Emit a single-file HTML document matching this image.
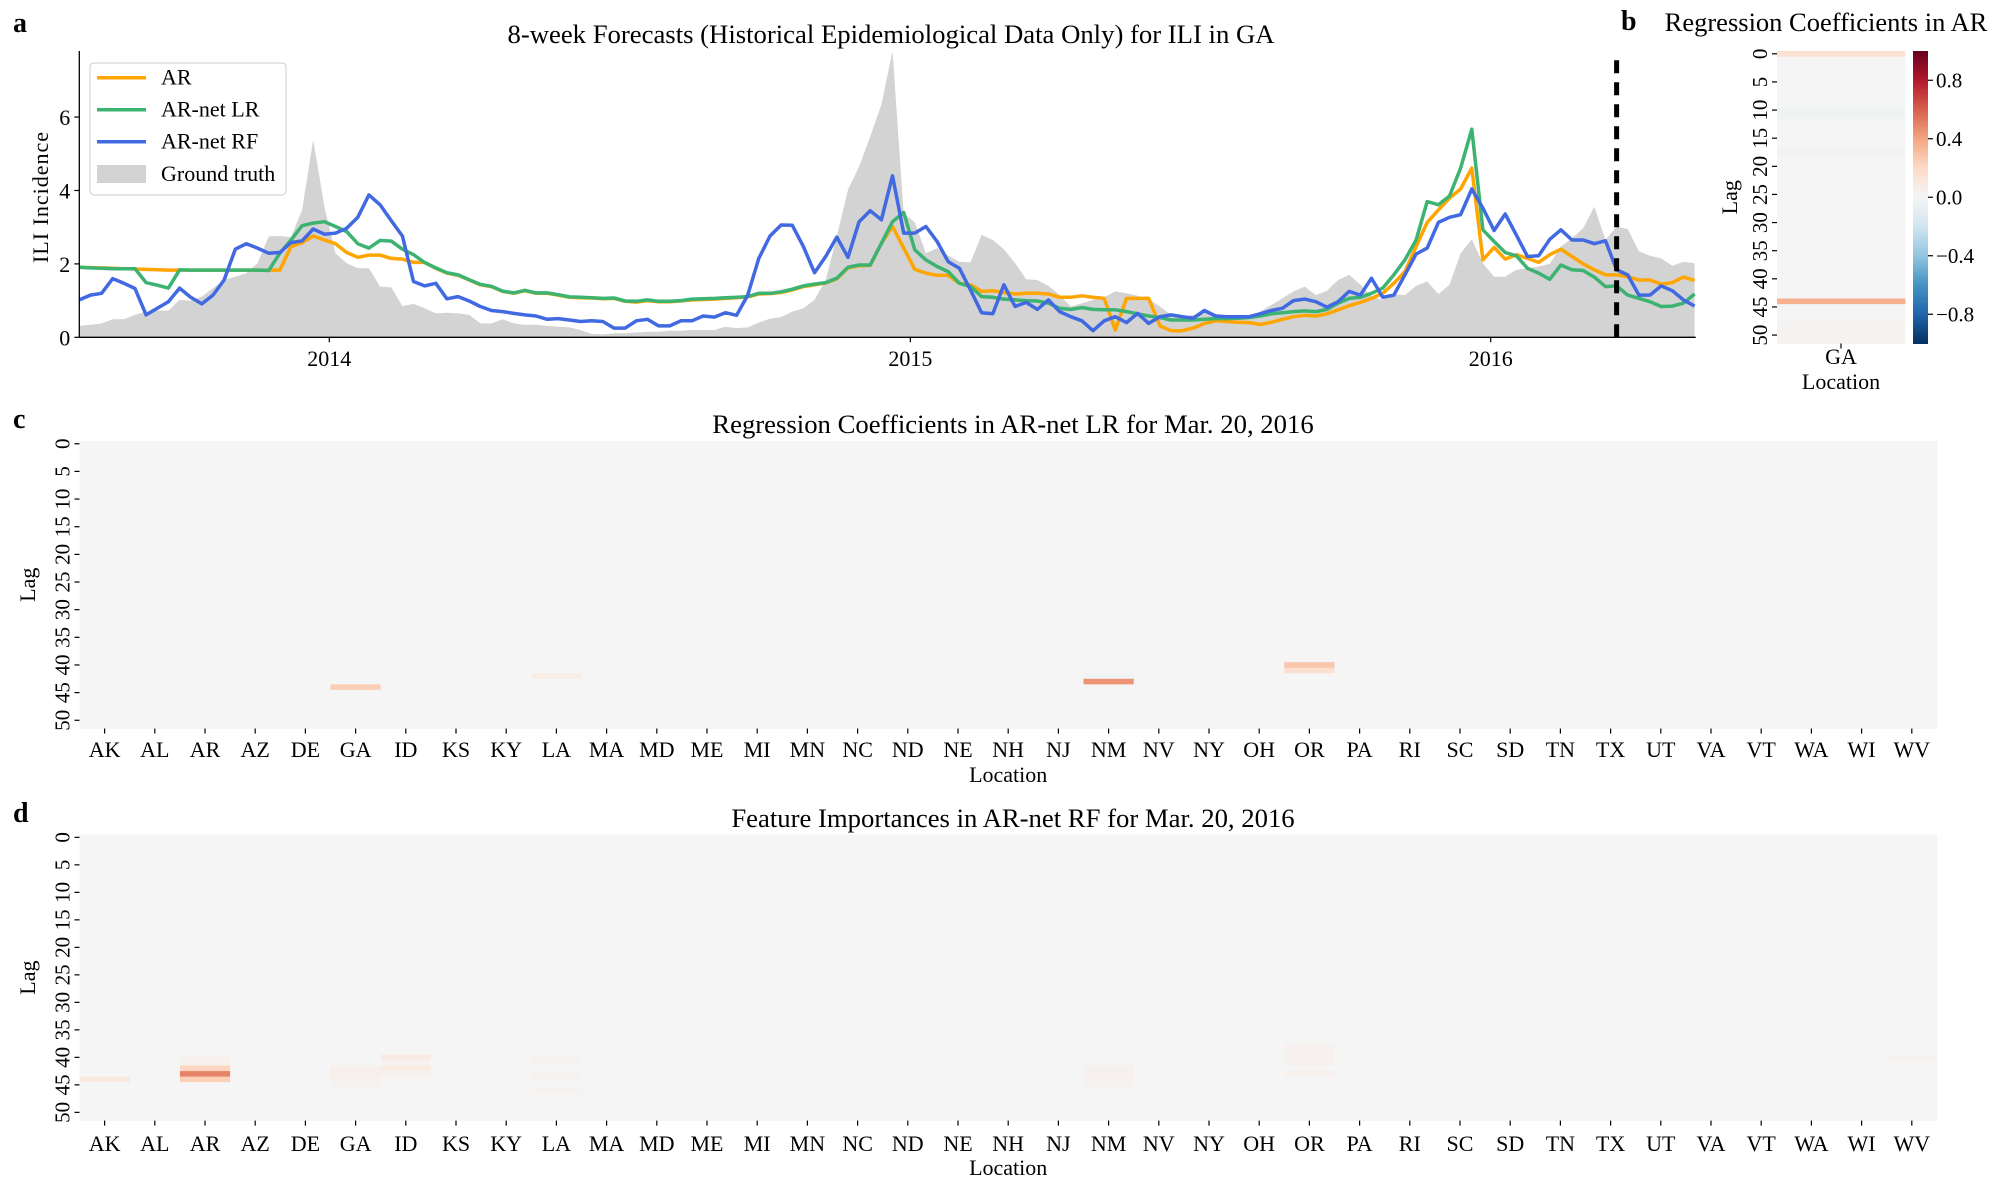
<!DOCTYPE html>
<html><head><meta charset="utf-8"><style>
html,body{margin:0;padding:0;background:#fff;}
svg{display:block;font-family:"Liberation Serif","DejaVu Serif",serif;}
</style></head><body>
<svg id="fig" width="2000" height="1200" viewBox="0 0 2000 1200" xmlns="http://www.w3.org/2000/svg">
<text x="13" y="32" font-size="28" font-weight="bold">a</text>
<text x="1621" y="30" font-size="28" font-weight="bold">b</text>
<text x="13" y="428" font-size="28" font-weight="bold">c</text>
<text x="13" y="822" font-size="28" font-weight="bold">d</text>
<text x="891" y="43" font-size="26.7" text-anchor="middle">8-week Forecasts (Historical Epidemiological Data Only) for ILI in GA</text>
<text x="1826" y="31" font-size="26.5" text-anchor="middle">Regression Coefficients in AR</text>
<text x="1013" y="433" font-size="26.7" text-anchor="middle">Regression Coefficients in AR-net LR for Mar. 20, 2016</text>
<text x="1013" y="827" font-size="26.7" text-anchor="middle">Feature Importances in AR-net RF for Mar. 20, 2016</text>
<g id="pa"></g>
<g id="pb"></g>
<g id="pc"></g>
<g id="pd"></g>
</svg>
<script>
// ---- Panel a data (weekly, index 0 = first week shown) ----
const groundTruth=[0.31,0.34,0.38,0.49,0.49,0.61,0.70,0.73,0.73,1.02,1.00,1.11,1.34,1.56,1.65,1.75,2.02,2.75,2.76,2.73,3.47,5.38,3.56,2.29,2.02,1.88,1.88,1.38,1.36,0.85,0.91,0.79,0.65,0.67,0.65,0.61,0.38,0.38,0.49,0.38,0.34,0.34,0.31,0.29,0.27,0.20,0.09,0.08,0.11,0.11,
0.13,0.15,0.15,0.18,0.18,0.20,0.20,0.20,0.29,0.25,0.27,0.40,0.51,0.55,0.70,0.79,1.02,1.56,2.75,4.02,4.65,5.47,6.34,7.84,3.38,3.13,2.29,2.43,2.22,2.06,2.04,2.79,2.65,2.40,2.02,1.58,1.56,1.40,1.15,0.84,0.93,1.02,1.09,1.25,1.20,1.13,1.04,0.84,0.61,
0.56,0.61,0.67,0.64,0.55,0.52,0.55,0.70,0.88,1.06,1.25,1.38,1.15,1.27,1.56,1.70,1.43,1.11,1.02,1.18,1.15,1.40,1.52,1.18,1.43,2.29,2.67,2.02,1.65,1.65,1.84,1.88,1.93,2.00,2.47,2.70,2.97,3.56,2.65,3.02,2.95,2.34,2.22,2.15,1.95,2.06,2.02];
const arSeries=[1.91,1.90,1.89,1.88,1.87,1.86,1.85,1.84,1.83,1.83,1.83,1.83,1.83,1.83,1.83,1.83,1.83,1.83,1.83,2.47,2.58,2.76,2.65,2.55,2.31,2.18,2.24,2.24,2.15,2.13,2.04,2.04,1.88,1.75,1.69,1.56,1.43,1.38,1.25,1.20,1.27,1.20,1.20,1.15,1.09,1.08,1.07,1.05,1.06,0.98,
0.96,1.00,0.97,0.97,0.99,1.02,1.03,1.04,1.06,1.08,1.10,1.18,1.19,1.22,1.29,1.38,1.43,1.48,1.59,1.89,1.95,1.96,2.56,3.02,2.43,1.85,1.75,1.69,1.69,1.47,1.43,1.25,1.27,1.22,1.18,1.20,1.20,1.18,1.09,1.09,1.13,1.09,1.06,0.20,1.06,1.06,1.06,0.31,0.18,
0.18,0.25,0.38,0.45,0.43,0.41,0.40,0.35,0.41,0.49,0.56,0.60,0.58,0.64,0.75,0.86,0.95,1.06,1.20,1.47,1.79,2.47,3.13,3.47,3.79,4.04,4.61,2.11,2.45,2.13,2.25,2.15,2.04,2.25,2.40,2.20,2.00,1.84,1.70,1.70,1.65,1.56,1.56,1.45,1.49,1.64,1.55];
const lrSeries=[1.91,1.89,1.88,1.87,1.87,1.87,1.49,1.42,1.34,1.84,1.83,1.83,1.83,1.83,1.83,1.83,1.83,1.82,2.29,2.65,3.04,3.11,3.15,3.02,2.88,2.55,2.43,2.64,2.62,2.40,2.25,2.04,1.89,1.76,1.70,1.57,1.44,1.39,1.26,1.21,1.28,1.21,1.21,1.16,1.10,1.09,1.08,1.06,1.07,0.99,
0.98,1.02,0.98,0.98,1.00,1.04,1.05,1.06,1.08,1.09,1.11,1.20,1.20,1.24,1.31,1.40,1.45,1.49,1.61,1.91,1.97,1.97,2.56,3.15,3.40,2.38,2.11,1.93,1.79,1.47,1.38,1.11,1.09,1.04,1.02,1.00,0.99,0.93,0.79,0.76,0.81,0.76,0.75,0.75,0.70,0.64,0.58,0.54,0.47,
0.47,0.47,0.49,0.51,0.51,0.52,0.54,0.58,0.64,0.67,0.70,0.72,0.70,0.76,0.93,1.06,1.09,1.20,1.34,1.70,2.11,2.65,3.70,3.61,3.85,4.61,5.67,2.93,2.61,2.31,2.22,1.88,1.75,1.58,1.97,1.84,1.82,1.64,1.38,1.40,1.15,1.06,0.97,0.84,0.85,0.93,1.18];
const rfSeries=[1.02,1.15,1.20,1.60,1.47,1.33,0.61,0.79,0.97,1.34,1.09,0.91,1.15,1.56,2.40,2.55,2.43,2.29,2.31,2.58,2.63,2.95,2.81,2.84,2.97,3.27,3.88,3.61,3.18,2.76,1.52,1.40,1.47,1.05,1.11,0.99,0.84,0.73,0.70,0.65,0.61,0.58,0.49,0.51,0.47,0.43,0.45,0.43,0.25,0.25,
0.45,0.49,0.31,0.31,0.45,0.45,0.58,0.55,0.67,0.60,1.15,2.15,2.76,3.06,3.05,2.47,1.76,2.20,2.73,2.18,3.15,3.45,3.20,4.40,2.84,2.84,3.02,2.61,2.06,1.88,1.29,0.67,0.64,1.43,0.84,0.95,0.76,1.02,0.70,0.56,0.45,0.18,0.45,0.56,0.40,0.65,0.38,0.56,0.61,
0.56,0.52,0.73,0.58,0.56,0.56,0.56,0.64,0.73,0.79,1.00,1.04,0.97,0.82,0.97,1.25,1.15,1.61,1.09,1.15,1.70,2.27,2.43,3.13,3.27,3.34,4.04,3.52,2.91,3.36,2.79,2.20,2.22,2.67,2.93,2.65,2.65,2.55,2.63,1.84,1.70,1.15,1.15,1.40,1.27,1.02,0.85];
const yTicks=[0,2,4,6];
const yearLabels=["2014","2015","2016"];
const yearWeeks=[22.44,74.6,126.7];
const forecastWeek=138;
// ---- Heatmap data ----
const locations=["AK","AL","AR","AZ","DE","GA","ID","KS","KY","LA","MA","MD","ME","MI","MN","NC","ND","NE","NH","NJ","NM","NV","NY","OH","OR","PA","RI","SC","SD","TN","TX","UT","VA","VT","WA","WI","WV"];
const lagTicks=[0,5,10,15,20,25,30,35,40,45,50];
const cbTicks=[0.8,0.4,0.0,-0.4,-0.8];
const bLags=[0,10,11,17,18,44,48,49,50,51];
const bVals=[0.15,-0.03,-0.03,-0.02,-0.02,0.36,0.01,0.01,0.01,0.01];
const cLocs=["GA","LA","NM","NM","OR","OR"];
const cLags=[44,42,42,43,40,41];
const cVals=[0.25,0.06,-0.03,0.45,0.28,0.16];
const dLocs=["AK","AR","AR","AR","AR","AR","GA","GA","GA","GA","GA","ID","ID","ID","ID","LA","LA","LA","LA","LA","NM","NM","NM","NM","OR","OR","OR","OR","OR","WV"];
const dLags=[44,40,41,42,43,44,42,43,44,45,49,40,41,42,43,40,41,43,44,46,42,43,44,45,38,39,40,41,43,40];
const dVals=[0.10,0.02,0.04,0.22,0.50,0.25,0.04,0.05,0.04,0.02,0.01,0.08,0.02,0.07,0.02,0.02,0.02,0.025,0.025,0.02,0.03,0.03,0.03,0.02,0.03,0.03,0.03,0.03,0.04,0.02];

const NS="http://www.w3.org/2000/svg";
function mk(tag,attrs,parent){const e=document.createElementNS(NS,tag);for(const k in attrs)e.setAttribute(k,attrs[k]);parent.appendChild(e);return e;}
const stops=["#053061","#2166ac","#4393c3","#92c5de","#d1e5f0","#f5f5f5","#fddbc7","#f4a582","#d6604d","#b2182b","#67001f"];
function hex(c){return [parseInt(c.substr(1,2),16),parseInt(c.substr(3,2),16),parseInt(c.substr(5,2),16)];}
function rdbu(v){v=Math.max(-1,Math.min(1,v));const t=(v+1)/2*10;const i=Math.min(9,Math.floor(t));const f=t-i;const a=hex(stops[i]),b=hex(stops[i+1]);return "rgb("+a.map((x,k)=>Math.round(x+(b[k]-x)*f)).join(",")+")";}

// ---- Panel a ----
const pa=document.getElementById('pa');
const X0=79.3,X1=1695.7,Y0=337.3,Y1=51,WMAX=145.1,VMAX=7.8;
const xs=w=>X0+(X1-X0)*w/WMAX;
const ys=v=>Y0-(Y0-Y1)*Math.min(v,VMAX)/VMAX;
let d="M"+xs(0)+","+ys(0);
groundTruth.forEach((v,i)=>{d+=" L"+xs(i).toFixed(1)+","+ys(v).toFixed(1);});
d+=" L"+xs(groundTruth.length-1)+","+ys(0)+" Z";
let gt=mk('path',{d:d,fill:"#d3d3d3",stroke:"none"},pa);


const series=[[arSeries,"#ffa500","ar-line"],[lrSeries,"#3cb371","ar-net-lr-line"],[rfSeries,"#4169e1","ar-net-rf-line"]];
series.forEach(s=>{const pts=s[0].map((v,i)=>xs(i).toFixed(1)+","+ys(v).toFixed(1)).join(" ");
 const l=mk('polyline',{points:pts,fill:"none",stroke:s[1],"stroke-width":3.5,"stroke-linejoin":"round"},pa);
 
 });
const dl=mk('line',{x1:xs(forecastWeek),x2:xs(forecastWeek),y1:Y0,y2:58,stroke:"#000","stroke-width":5,"stroke-dasharray":"13,9"},pa);


mk('line',{x1:X0,x2:X0,y1:Y1,y2:Y0,stroke:"#000","stroke-width":1.3},pa);
mk('line',{x1:X0,x2:X1,y1:Y0,y2:Y0,stroke:"#000","stroke-width":1.3},pa);
yTicks.forEach(t=>{mk('line',{x1:X0-5,x2:X0,y1:ys(t),y2:ys(t),stroke:"#000","stroke-width":1.2},pa);
 const tx=mk('text',{x:X0-9,y:ys(t)+8,"font-size":22,"text-anchor":"end"},pa);tx.textContent=t;
 
 });
yearWeeks.forEach((w,i)=>{mk('line',{x1:xs(w),x2:xs(w),y1:Y0,y2:Y0+5,stroke:"#000","stroke-width":1.2},pa);
 const tx=mk('text',{x:xs(w),y:366,"font-size":22,"text-anchor":"middle"},pa);tx.textContent=yearLabels[i];
 
 });
const yl=mk('text',{x:0,y:0,"font-size":22,"text-anchor":"middle","letter-spacing":"1",transform:"translate(48,197) rotate(-90)"},pa);yl.textContent="ILI Incidence";


const lg=mk('g',{},pa);


mk('rect',{x:90,y:63,width:196,height:132,rx:4,fill:"#fff","fill-opacity":0.85,stroke:"#ccc","stroke-width":1},lg);
const legItems=[["AR","#ffa500",77.7],["AR-net LR","#3cb371",109.7],["AR-net RF","#4169e1",141.7]];
legItems.forEach(it=>{mk('line',{x1:97,x2:146,y1:it[2],y2:it[2],stroke:it[1],"stroke-width":3.5},lg);
 const t=mk('text',{x:161,y:it[2]+7,"font-size":22},lg);t.textContent=it[0];
 
 });
mk('rect',{x:97,y:165,width:49,height:18,fill:"#d3d3d3"},lg);
const gtl=mk('text',{x:161,y:181,"font-size":22},lg);gtl.textContent="Ground truth";



// ---- Heatmap helper ----
function lagAxis(g,left,top,rowH,labelX){
 lagTicks.forEach(l=>{const y=top+(l+0.5)*rowH;
  mk('line',{x1:left-5,x2:left,y1:y,y2:y,stroke:"#000","stroke-width":1.2},g);
  const t=mk('text',{x:0,y:0,"font-size":21,"text-anchor":"middle",transform:"translate("+(left-10)+","+y+") rotate(-90)"},g);t.textContent=l;
  
  });
 const t=mk('text',{x:0,y:0,"font-size":22,"text-anchor":"middle",transform:"translate("+labelX+","+(top+26*rowH)+") rotate(-90)"},g);t.textContent="Lag";
 
 
}
function matrix(locs,lags,vals,ncol){const m=[];for(let r=0;r<52;r++){m.push(new Array(ncol).fill(0));}
 for(let k=0;k<vals.length;k++){const c=ncol===1?0:locations.indexOf(locs[k]);m[lags[k]][c]=vals[k];}return m;}
function drawHeat(g,m,left,top,colW,rowH){
 for(let r=0;r<52;r++)for(let c=0;c<m[r].length;c++){
  const e=mk('rect',{x:left+c*colW,y:top+r*rowH,width:colW+0.4,height:rowH+0.4,fill:rdbu(m[r][c])},g);
  
  }}
function locAxis(g,left,bottom,colW,labY,titleY){
 locations.forEach((l,i)=>{const x=left+(i+0.5)*colW;
  mk('line',{x1:x,x2:x,y1:bottom,y2:bottom+5,stroke:"#000","stroke-width":1.2},g);
  const t=mk('text',{x:x,y:labY,"font-size":22,"text-anchor":"middle"},g);t.textContent=l;
  
  });
 const t=mk('text',{x:left+colW*37/2,y:titleY,"font-size":22,"text-anchor":"middle"},g);t.textContent="Location";
 
 }

// ---- Panel b ----
const pb=document.getElementById('pb');
const bL=1777,bT=51,bW=128,bRH=(343.5-51)/52;
drawHeat(pb,matrix(null,bLags,bVals,1),bL,bT,bW,bRH);
lagAxis(pb,bL,bT,bRH,1737);
mk('line',{x1:bL+bW/2,x2:bL+bW/2,y1:bT+52*bRH,y2:bT+52*bRH+5,stroke:"#000","stroke-width":1.2},pb);
const ga=mk('text',{x:bL+bW/2,y:364,"font-size":22,"text-anchor":"middle"},pb);ga.textContent="GA";


const blab=mk('text',{x:bL+bW/2,y:389,"font-size":22,"text-anchor":"middle"},pb);blab.textContent="Location";


const cbX=1913,cbW=15,cbT=51,cbB=343.5;
for(let k=0;k<120;k++){const v=1-2*(k+0.5)/120;mk('rect',{x:cbX,y:cbT+(cbB-cbT)*k/120,width:cbW,height:(cbB-cbT)/120+0.5,fill:rdbu(v)},pb);}
cbTicks.forEach(v=>{const y=cbT+(cbB-cbT)*(1-v)/2;
 mk('line',{x1:cbX+cbW,x2:cbX+cbW+5,y1:y,y2:y,stroke:"#000","stroke-width":1.2},pb);
 const t=mk('text',{x:cbX+cbW+8,y:y+7,"font-size":21},pb);t.textContent=(v<0?"\u2212":"")+Math.abs(v).toFixed(1);
 
 });

// ---- Panel c ----
const pc=document.getElementById('pc');
const hL=79.5,colW=50.2,cT=441,cRH=5.53;
drawHeat(pc,matrix(cLocs,cLags,cVals,37),hL,cT,colW,cRH);
lagAxis(pc,hL,cT,cRH,35);
locAxis(pc,hL,cT+52*cRH,colW,757,782);

// ---- Panel d ----
const pd=document.getElementById('pd');
const dT=834.6,dRH=5.5;
drawHeat(pd,matrix(dLocs,dLags,dVals,37),hL,dT,colW,dRH);
lagAxis(pd,hL,dT,dRH,35);
locAxis(pd,hL,dT+52*dRH,colW,1151,1175);
</script>
</body></html>
